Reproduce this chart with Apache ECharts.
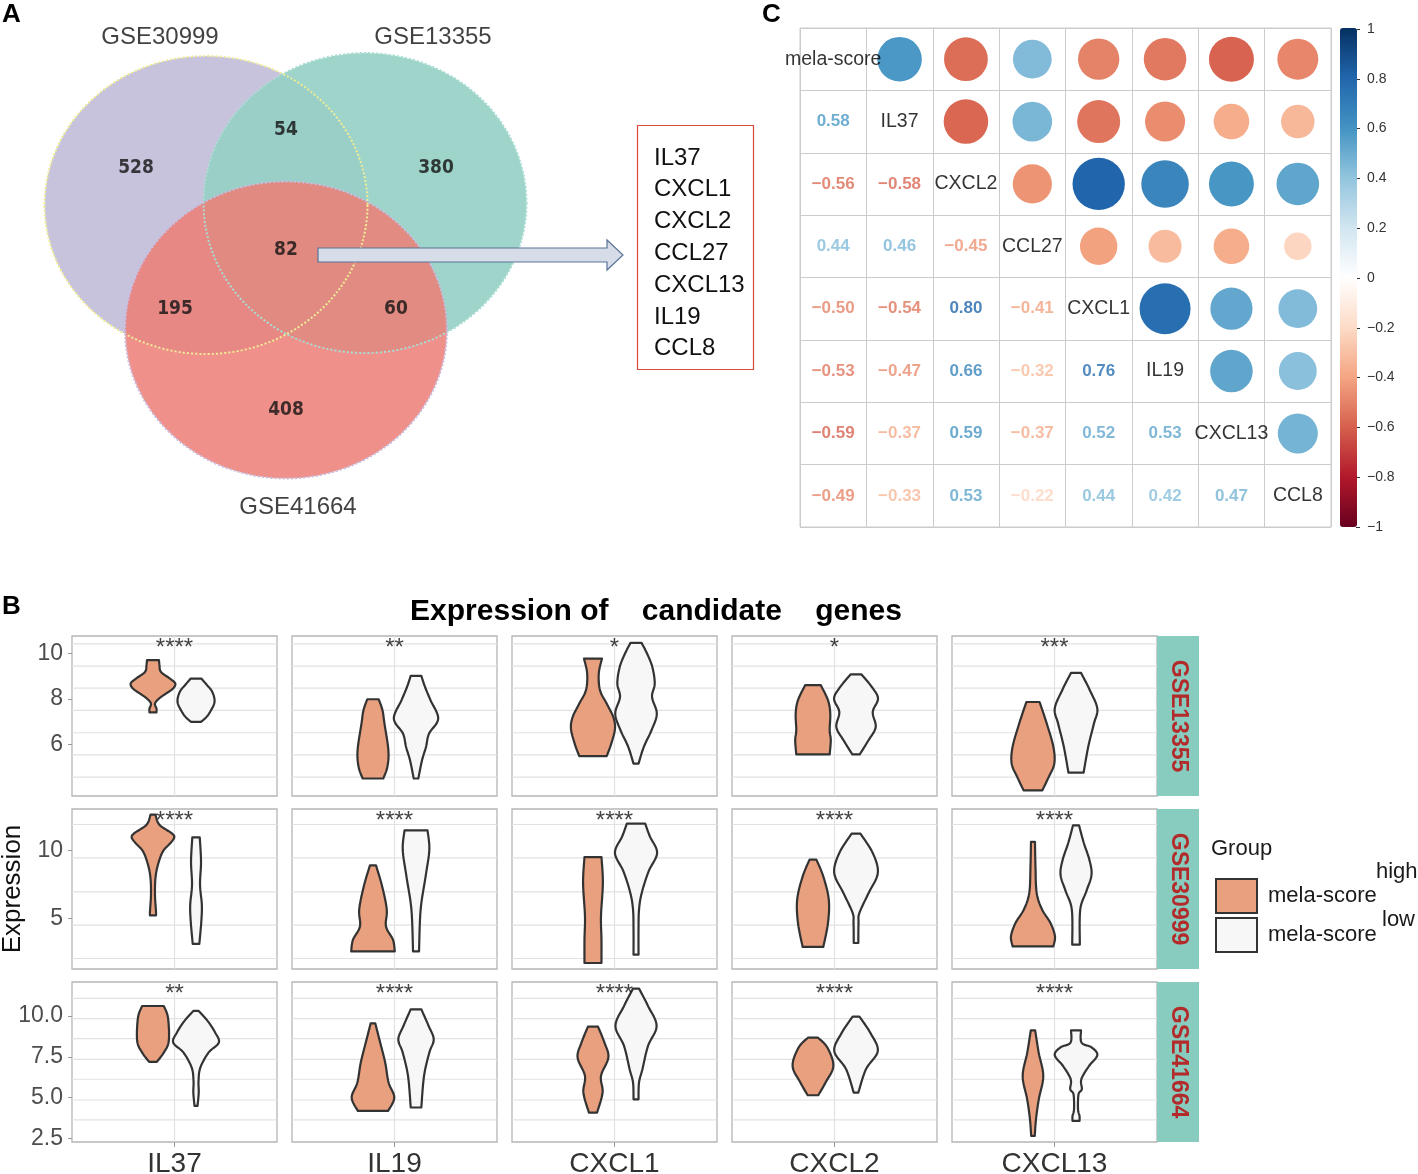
<!DOCTYPE html>
<html><head><meta charset="utf-8">
<script src="https://cdn.jsdelivr.net/npm/echarts@6/dist/echarts.min.js"></script>
<style>html,body{margin:0;padding:0;background:#fff}#c{width:1418px;height:1174px}</style>
</head><body><div id="c"></div>
<script>
// ================= DATA =================
// Panel A: Venn
const vennSets = ['GSE30999', 'GSE13355', 'GSE41664'];
const vennRegions = ['only GSE30999', 'only GSE13355', 'GSE30999&GSE13355', 'all three', 'GSE30999&GSE41664', 'GSE13355&GSE41664', 'only GSE41664'];
const vennCounts = [528, 380, 54, 82, 195, 60, 408];
const candidateGenes = ['IL37', 'CXCL1', 'CXCL2', 'CCL27', 'CXCL13', 'IL19', 'CCL8'];

// Panel C: correlation matrix (lower triangle, row i / column j<i)
const corrVars = ['mela-score', 'IL37', 'CXCL2', 'CCL27', 'CXCL1', 'IL19', 'CXCL13', 'CCL8'];
const corrLower = [
  [],
  [0.58],
  [-0.56, -0.58],
  [0.44, 0.46, -0.45],
  [-0.50, -0.54, 0.80, -0.41],
  [-0.53, -0.47, 0.66, -0.32, 0.76],
  [-0.59, -0.37, 0.59, -0.37, 0.52, 0.53],
  [-0.49, -0.33, 0.53, -0.22, 0.44, 0.42, 0.47]
];

// Panel B: violins
const violinGenes = ['IL37', 'IL19', 'CXCL1', 'CXCL2', 'CXCL13'];
const datasets = ['GSE13355', 'GSE30999', 'GSE41664'];
const groups = ['high', 'low'];
const sigLabels = [
  ['****', '**', '*', '*', '***'],
  ['****', '****', '****', '****', '****'],
  ['**', '****', '****', '****', '****']
];
const yRanges = [[3.74, 10.77], [1.28, 13.04], [2.29, 12.08]];
const yTicks = [[6, 8, 10], [5, 10], [2.5, 5, 7.5, 10]];
const yGridLines = [
  [4.57, 5.55, 6.52, 7.5, 8.48, 9.45, 10.42],
  [2.05, 4.5, 6.95, 9.45, 11.9],
  [3.64, 4.86, 6.13, 7.35, 8.62, 9.84, 11.08]
];
// violin outlines: [expression, density (half width)] from top to bottom
const violinHigh = [
  [ // GSE13355
    [[9.71,6],[9.49,6.5],[9.19,8],[8.90,17],[8.68,22.3],[8.46,20],[8.24,13],[8.02,6],[7.80,2],[7.58,3.5],[7.41,3.5]],
    [[7.99,5.7],[7.51,9.5],[6.92,11.5],[5.75,15.4],[5.02,14.4],[4.51,10.3]],
    [[9.78,9],[9.12,5.8],[8.39,7],[7.80,13.7],[7.21,20.3],[6.70,22],[6.04,18.3],[5.49,13.7]],
    [[8.61,7.8],[7.95,15],[7.36,17.3],[6.63,16.7],[6.19,17.8],[5.57,16.7]],
    [[7.87,6.6],[6.92,13.8],[5.90,20.4],[5.16,21.3],[4.58,15.8],[3.99,9.4]]
  ],
  [ // GSE30999
    [[12.62,2.5],[11.89,6.3],[11.28,18.3],[10.96,21.3],[10.54,17.5],[9.93,10],[8.95,5],[7.97,2.5],[6.74,2],[5.51,3],[5.22,3]],
    [[8.90,3],[7.35,9.2],[5.64,13.8],[4.41,13],[3.43,20],[2.57,21.8]],
    [[9.51,8.5],[7.60,9.9],[5.15,8],[3.43,8.5],[1.72,8.5]],
    [[9.32,3.4],[8.09,10.3],[6.38,15.8],[4.66,15],[2.90,10.3]],
    [[10.62,2],[8.82,2.5],[6.87,3.7],[5.64,9.2],[4.66,17.5],[3.68,22],[2.94,20.3]]
  ],
  [ // GSE41664
    [[10.61,10.8],[9.90,15],[8.47,15.8],[7.76,10.8],[7.19,3.8]],
    [[9.55,2.3],[8.57,6.4],[7.15,12.2],[5.93,15.6],[5.01,21.3],[4.19,15.1]],
    [[9.35,5],[8.37,11.5],[7.46,15.4],[6.33,8],[5.31,9.6],[4.09,4.1]],
    [[8.68,4.8],[8.07,14.4],[6.94,20.4],[5.93,12.6],[5.15,5.3]],
    [[9.12,2.2],[7.76,5.7],[6.33,10.3],[4.90,5.8],[3.68,3],[2.66,1.8]]
  ]
];
const violinLow = [
  [ // GSE13355
    [[8.90,5.3],[8.61,11],[8.31,16.3],[7.87,18.5],[7.43,14],[7.19,10],[7.0,5]],
    [[9.02,5.3],[8.53,9],[7.95,14.5],[7.14,22.2],[6.48,13],[5.90,10],[5.31,6],[4.51,2.3]],
    [[10.47,5.5],[10.0,11],[9.41,16.3],[8.68,18.7],[8.09,16],[7.36,20.8],[6.63,15.5],[5.90,7.8],[5.16,2.5]],
    [[9.08,5.5],[8.53,15.8],[8.02,22],[7.43,16.7],[6.77,19.7],[6.19,12.5],[5.57,3.7]],
    [[9.15,5],[8.39,13.8],[7.58,21.3],[6.92,17.9],[5.90,12.2],[4.77,7.6]]
  ],
  [ // GSE30999
    [[10.96,3.7],[9.19,5],[7.48,4],[6.01,5.8],[4.78,5.3],[3.12,3.3]],
    [[11.47,11.5],[10.05,13.3],[8.09,9.6],[5.64,4.6],[2.57,3]],
    [[11.96,9.2],[11.03,13.8],[9.81,21.1],[8.46,12.6],[6.87,5.7],[5.64,3],[4.17,2.5],[2.33,2.5]],
    [[11.23,4.4],[9.81,16.7],[8.34,21.8],[6.87,12.6],[5.40,3.4],[4.66,2.5],[3.19,2.3]],
    [[11.84,3],[10.54,7.8],[9.32,13.3],[8.21,15.5],[6.99,10.3],[5.64,4.2],[3.07,3.8]]
  ],
  [ // GSE41664
    [[10.31,2.7],[9.69,11.7],[8.98,19.2],[8.37,22.8],[7.76,12.5],[6.84,4.3],[6.02,2.5],[5.31,2.7],[4.50,1.5]],
    [[10.41,5.3],[9.39,12.6],[8.57,17.7],[7.76,13.3],[6.33,8],[4.40,5.3]],
    [[11.68,3],[10.61,12],[9.39,20.6],[8.17,12],[6.74,6.4],[5.93,3],[4.90,2.5]],
    [[9.96,3.4],[8.98,14.2],[7.86,21.8],[6.74,9.9],[5.31,2.3]],
    [[9.12,5],[8.37,5.5],[8.07,15.8],[7.6,21.3],[6.94,13],[6.13,5.3],[5.52,5.8],[5.21,2.5],[4.29,2],[3.88,3.5],[3.58,3.5]]
  ]
];

// ================= STYLE / LAYOUT =================
const FONT = "'Liberation Sans', Arial, Helvetica, sans-serif";
const NARROW = "'Liberation Sans Narrow', 'DejaVu Sans Condensed', 'Liberation Sans', sans-serif";
const ORANGE = '#e9a07e', WHITE = '#f7f7f7';
const RDBU = ['#67001F','#B2182B','#D6604D','#F4A582','#FDDBC7','#FFFFFF','#D1E5F0','#92C5DE','#4393C3','#2166AC','#053061'];
const VENN = {
  centers: [[206,205],[365,203],[286,330]],
  size: [[323,298],[323,300],[322,297]],
  fills: ['rgba(200,195,221,1)','rgba(150,208,196,0.92)','rgba(236,126,117,0.85)'],
  edges: ['#f0ec96','#a9ddd4','#c8bde0'],
  regionPos: [[136,168],[436,168],[286,130],[286,250],[175,309],[396,309],[286,410]],
  namePos: [[160,37],[433,37],[298,507]]
};
const colLeft = [72, 292, 512, 732, 952], rowTop = [636, 809, 982], PW = 205, PH = 160;
const DODGE = 0.126, WSCALE = 1 / 170.8;

function hex2rgb(h){ h=h.replace('#',''); return [parseInt(h.slice(0,2),16),parseInt(h.slice(2,4),16),parseInt(h.slice(4,6),16)]; }
function rdbu(v){
  const t = (v + 1) / 2 * 10; const i = Math.max(0, Math.min(9, Math.floor(t))); const f = t - i;
  const a = hex2rgb(RDBU[i]), b = hex2rgb(RDBU[i+1]);
  const c = a.map((x,k)=>Math.round(x + (b[k]-x)*f));
  return 'rgb(' + c.join(',') + ')';
}
function fmtR(v){ return (v < 0 ? '\u2212' : '') + Math.abs(v).toFixed(2); }
function catmull(p){
  const out = [];
  const cr = (a,b,c,d,t) => 0.5*((2*b) + (-a+c)*t + (2*a-5*b+4*c-d)*t*t + (-a+3*b-3*c+d)*t*t*t);
  for (let i = 0; i < p.length - 1; i++) {
    const p0 = p[Math.max(0,i-1)], p1 = p[i], p2 = p[i+1], p3 = p[Math.min(p.length-1,i+2)];
    for (let k = 0; k < 8; k++) {
      const t = k / 8;
      out.push([cr(p0[0],p1[0],p2[0],p3[0],t), Math.max(0.8, cr(p0[1],p1[1],p2[1],p3[1],t))]);
    }
  }
  out.push(p[p.length-1]);
  return out;
}

const grids = [], xAxes = [], yAxes = [], series = [];
const GB = {outerBoundsMode:'none', containLabel:false};

// ---- Panel C: correlation grid (index 0) ----
grids.push(Object.assign({left: 800, top: 28, width: 531, height: 499, show: true, borderColor: '#cccccc', borderWidth: 1}, GB));
const catAxisBase = {axisLine:{show:false}, axisTick:{show:false}, axisLabel:{show:false}, splitLine:{show:true, interval:0, lineStyle:{color:'#cccccc', width:1}}};
xAxes.push(Object.assign({gridIndex:0, type:'category', data: corrVars}, catAxisBase));
yAxes.push(Object.assign({gridIndex:0, type:'category', data: corrVars, inverse:true}, catAxisBase));
const nV = corrVars.length;
const circleData = [], textData = [], diagData = [];
for (let i = 0; i < nV; i++) for (let j = 0; j < nV; j++) {
  if (j > i) circleData.push([j, i, corrLower[j][i]]);
  else if (j < i) textData.push({value:[j, i, corrLower[i][j]], label:{color: rdbu(corrLower[i][j])}});
  else diagData.push({value:[i, i], name: corrVars[i]});
}
const circleSeriesIndex = series.length;
series.push({type:'scatter', xAxisIndex:0, yAxisIndex:0, data: circleData, symbol:'circle', itemStyle:{opacity:1},
  symbolSize: v => Math.sqrt(Math.abs(v[2])) * 58.5, silent:true, z:3});
series.push({type:'scatter', xAxisIndex:0, yAxisIndex:0, data: textData, symbolSize:0, silent:true, z:4,
  label:{show:true, position:'inside', formatter: p => fmtR(p.value[2]), fontSize:17, fontWeight:'bold', fontFamily:FONT}});
series.push({type:'scatter', xAxisIndex:0, yAxisIndex:0, data: diagData, symbolSize:0, silent:true, z:4,
  label:{show:true, position:'inside', formatter: p => p.name, fontSize:19.5, color:'#000', fontFamily:FONT}});

// ---- colour bar axis (index 1) ----
grids.push(Object.assign({left: 1356, top: 29, width: 1, height: 498, show:false}, GB));
xAxes.push({gridIndex:1, type:'value', show:false});
yAxes.push({gridIndex:1, type:'value', position:'right', min:-1, max:1, interval:0.2,
  axisLine:{show:false}, splitLine:{show:false},
  axisTick:{show:true, length:4, lineStyle:{color:'#333'}},
  axisLabel:{show:true, margin:10, fontSize:14, color:'#333', fontFamily:FONT,
    formatter: v => { const r = Math.round(v*10)/10; return (r < 0 ? '\u2212' : '') + Math.abs(r); }}});

// ---- Panel A: Venn grid (index 2) ----
grids.push(Object.assign({left:0, top:0, width:620, height:530, show:false}, GB));
xAxes.push({gridIndex:2, type:'value', min:0, max:620, show:false});
yAxes.push({gridIndex:2, type:'value', min:0, max:530, inverse:true, show:false});
series.push({type:'scatter', xAxisIndex:2, yAxisIndex:2, silent:true, z:2,
  data: vennSets.map((s,i)=>({name:s, value:VENN.centers[i], symbolSize:VENN.size[i], itemStyle:{color:VENN.fills[i], opacity:1}}))});
series.push({type:'scatter', xAxisIndex:2, yAxisIndex:2, silent:true, z:3,
  data: vennSets.map((s,i)=>({name:s, value:VENN.centers[i], symbolSize:VENN.size[i],
    itemStyle:{color:'rgba(0,0,0,0)', opacity:1, borderColor:VENN.edges[i], borderWidth:2, borderType:'dotted'}}))});
series.push({type:'scatter', xAxisIndex:2, yAxisIndex:2, silent:true, z:4, symbolSize:0,
  data: vennCounts.map((c,i)=>({name:vennRegions[i], value:VENN.regionPos[i]})),
  label:{show:true, position:'inside', formatter: p => String(vennCounts[p.dataIndex]), fontSize:19, fontWeight:'bold', color:'#111', fontFamily:NARROW}});
series.push({type:'scatter', xAxisIndex:2, yAxisIndex:2, silent:true, z:4, symbolSize:0,
  data: vennSets.map((s,i)=>({name:s, value:VENN.namePos[i]})),
  label:{show:true, position:'inside', formatter: p => p.name, fontSize:24, color:'#111', fontFamily:FONT}});

// ---- Panel B: violin facets ----
function violinRender(profile, center, fill){
  const pts = catmull(profile);
  return function(params, api){
    const right = pts.map(p => api.coord([center + p[1]*WSCALE, p[0]]));
    const left = pts.slice().reverse().map(p => api.coord([center - p[1]*WSCALE, p[0]]));
    return {type:'polygon', shape:{points: right.concat(left)}, style:{fill: fill, stroke:'#333', lineWidth:2.2, lineJoin:'round'}};
  };
}
for (let r = 0; r < 3; r++) for (let c = 0; c < 5; c++) {
  const gi = grids.length;
  grids.push(Object.assign({left: colLeft[c], top: rowTop[r], width: PW, height: PH, show:true, backgroundColor:'#fff', borderColor:'#b5b5b5', borderWidth:1.3}, GB));
  const gene = violinGenes[c];
  xAxes.push({gridIndex:gi, type:'value', min:0.4, max:1.6, interval:0.6,
    axisLine:{show:false},
    splitLine:{show:true, lineStyle:{color:'#e2e2e2', width:1.2}},
    axisTick:{show: r===2, customValues:[1], length:5, lineStyle:{color:'#999'}},
    axisLabel:{show: r===2, customValues:[1], margin:8, fontSize:28, color:'#333', fontFamily:FONT,
      formatter: v => Math.abs(v-1) < 1e-6 ? gene : ''}});
  const yax = {gridIndex:gi, type:'value', min:yRanges[r][0], max:yRanges[r][1],
    axisLine:{show:false}, splitLine:{show:false},
    axisTick:{show: c===0, customValues: yTicks[r], length:4, lineStyle:{color:'#999'}},
    axisLabel:{show: c===0, customValues: yTicks[r], margin:9, fontSize:23, color:'#4d4d4d', fontFamily:FONT,
      formatter: v => r === 2 ? v.toFixed(1) : String(v)}};
  if (r === 1 && c === 0) Object.assign(yax, {name:'Expression', nameLocation:'middle', nameGap:46, nameRotate:90,
    nameTextStyle:{fontSize:26, color:'#111', fontFamily:FONT}});
  yAxes.push(yax);
  // horizontal grid lines
  series.push({type:'custom', xAxisIndex:gi, yAxisIndex:gi, silent:true, z:1, clip:true,
    data: yGridLines[r].map(v => [1, v]), encode:{x:0, y:1},
    renderItem: (params, api) => {
      const cs = params.coordSys; const y = api.coord([1, api.value(1)])[1];
      return {type:'line', shape:{x1:cs.x, y1:y, x2:cs.x+cs.width, y2:y}, style:{stroke:'#e2e2e2', lineWidth:1.2}};
    }});
  // violins
  series.push({type:'custom', name: groups[0], xAxisIndex:gi, yAxisIndex:gi, silent:true, z:3, clip:true,
    itemStyle:{color:ORANGE, borderColor:'#333', borderWidth:2},
    data:[[1 - DODGE, violinHigh[r][c][0][0]]], encode:{x:0, y:1},
    renderItem: violinRender(violinHigh[r][c], 1 - DODGE, ORANGE)});
  series.push({type:'custom', name: groups[1], xAxisIndex:gi, yAxisIndex:gi, silent:true, z:3, clip:true,
    itemStyle:{color:WHITE, borderColor:'#333', borderWidth:2},
    data:[[1 + DODGE, violinLow[r][c][0][0]]], encode:{x:0, y:1},
    renderItem: violinRender(violinLow[r][c], 1 + DODGE, WHITE)});
  // significance stars
  series.push({type:'scatter', xAxisIndex:gi, yAxisIndex:gi, silent:true, z:5, symbolSize:0, clip:false,
    data:[[1, yRanges[r][1]]],
    label:{show:true, position:'bottom', distance:0, formatter: sigLabels[r][c], fontSize:24, color:'#111', fontFamily:FONT}});
}

// ---- graphics (annotations) ----
const graphic = [
  {type:'text', left:2, top:2, style:{text:'A', font:'bold 26px ' + FONT, fill:'#000'}},
  {type:'text', left:762, top:2, style:{text:'C', font:'bold 26px ' + FONT, fill:'#000'}},
  {type:'text', left:2, top:594, style:{text:'B', font:'bold 26px ' + FONT, fill:'#000'}},
  {type:'polygon', z:100, silent:true, shape:{points:[[318,248],[607,248],[607,240],[623,255],[607,270],[607,262],[318,262]]},
    style:{fill:'#d6dde8', stroke:'#5b7397', lineWidth:1.2}},
  {type:'rect', shape:{x:637.5, y:125.5, width:116, height:244}, style:{fill:'none', stroke:'#d9493e', lineWidth:1.2}},
  {type:'text', x:654, y:142, style:{text: candidateGenes.join('\n'), font:'24px ' + FONT, fill:'#111', lineHeight:31.8, textVerticalAlign:'top'}},
  {type:'text', x:656, y:612, style:{text:'Expression of    candidate    genes', font:'bold 30px ' + FONT, fill:'#000', textAlign:'center', textVerticalAlign:'middle'}},
  {type:'text', left:1211, top:838, style:{text:'Group', font:'22px ' + FONT, fill:'#1a1a1a'}},
  {type:'text', x:1376, y:872, style:{text: groups[0], font:'22px ' + FONT, fill:'#1a1a1a', textVerticalAlign:'middle'}},
  {type:'text', x:1382, y:920, style:{text: groups[1], font:'22px ' + FONT, fill:'#1a1a1a', textVerticalAlign:'middle'}}
];
for (let r = 0; r < 3; r++) {
  graphic.push({type:'rect', shape:{x:1157, y:rowTop[r], width:42, height:PH}, style:{fill:'#88cbbf'}});
  graphic.push({type:'text', x:1178, y:rowTop[r] + PH/2, rotation:-Math.PI/2,
    style:{text: datasets[r], font:'bold 23px ' + FONT, fill:'#b22a2a', textAlign:'center', textVerticalAlign:'middle'}});
}

const option = {
  animation:false,
  backgroundColor:'#ffffff',
  textStyle:{fontFamily:FONT},
  grid: grids, xAxis: xAxes, yAxis: yAxes, series: series,
  visualMap: [{type:'continuous', min:-1, max:1, seriesIndex: circleSeriesIndex, dimension:2,
    inRange:{color: RDBU}, orient:'vertical', left:1340, top:28, itemWidth:17, itemHeight:499,
    calculable:false, padding:0, hoverLink:false, text:null, showLabel:false}],
  legend: {data:[{name:groups[0], itemStyle:{color:ORANGE, borderColor:'#333', borderWidth:2}},
                 {name:groups[1], itemStyle:{color:WHITE, borderColor:'#333', borderWidth:2}}],
    orient:'vertical', left:1215, top:878, itemWidth:41, itemHeight:34, itemGap:3, icon:'rect', padding:0,
    selectedMode:false, formatter: () => 'mela-score',
    textStyle:{fontSize:22, color:'#1a1a1a', fontFamily:FONT, padding:[0,0,0,6]}},
  graphic: graphic
};
const chart = echarts.init(document.getElementById('c'), null, {width:1418, height:1174});
chart.setOption(option);
</script></body></html>
